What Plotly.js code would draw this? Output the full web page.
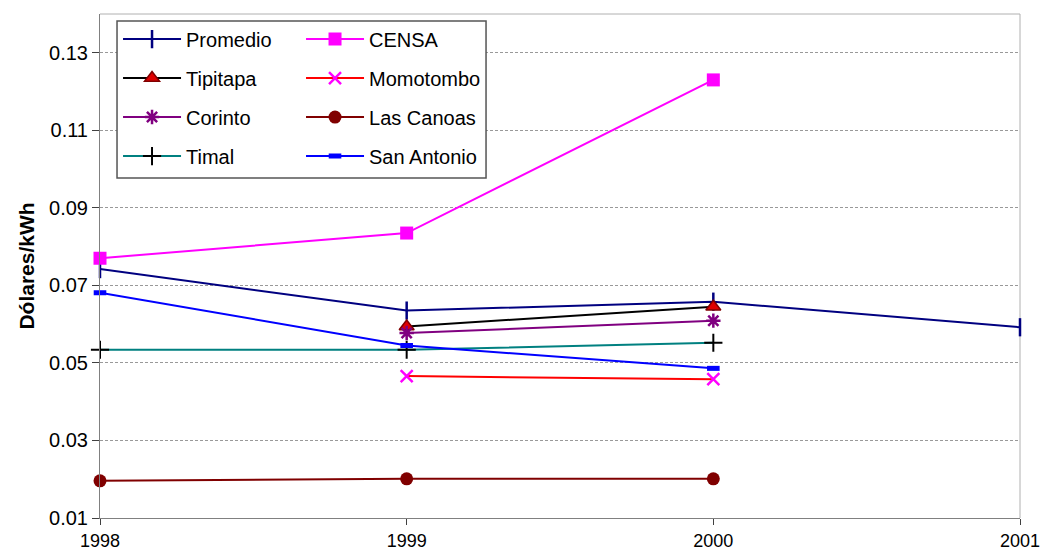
<!DOCTYPE html>
<html>
<head>
<meta charset="utf-8">
<script src="https://cdn.plot.ly/plotly-3.0.1.min.js"></script>
<style>html,body{margin:0;padding:0;background:#fff;}#chart{width:1041px;height:556px;}</style>
</head>
<body>
<div id="chart"></div>
<script>
// ---- data ----
const years = [1998, 1999, 2000, 2001];
const promedio   = [0.0742, 0.0635, 0.0658, 0.0592];
const censaYears = [1998, 1999, 2000];
const censa      = [0.0770, 0.0835, 0.1230];
const tipiYears  = [1999, 2000];
const tipitapa   = [0.0594, 0.0645];
const momoYears  = [1999, 2000];
const momotombo  = [0.0466, 0.0458];
const coriYears  = [1999, 2000];
const corinto    = [0.0577, 0.0609];
const canoYears  = [1998, 1999, 2000];
const lasCanoas  = [0.0196, 0.0201, 0.0201];
const timalYears = [1998, 1999, 2000];
const timal      = [0.0534, 0.0534, 0.0552];
const sanYears   = [1998, 1999, 2000];
const sanAntonio = [0.0681, 0.0545, 0.0486];
const yTicks = [0.01, 0.03, 0.05, 0.07, 0.09, 0.11, 0.13];
const yTickText = ['0.01', '0.03', '0.05', '0.07', '0.09', '0.11', '0.13'];
const xTicks = [1998, 1999, 2000, 2001];
const xTickText = ['1998', '1999', '2000', '2001'];

const FONT = 'Liberation Sans, Arial, sans-serif';

function tr(name, x, y, lineColor, marker, legend, group) {
  return {
    type: 'scatter', mode: 'lines+markers', name: name, x: x, y: y,
    line: {color: lineColor, width: 2},
    marker: marker, cliponaxis: false,
    legend: legend, legendgroup: group, showlegend: true
  };
}

const data = [
  tr('Promedio', years, promedio, '#000080',
     {symbol: 'line-ns', size: 13, line: {color: '#000080', width: 2.5}}, 'legend', 'g1'),
  tr('CENSA', censaYears, censa, '#FF00FF',
     {symbol: 'square', size: 13, color: '#FF00FF', line: {width: 0}}, 'legend2', 'g2'),
  tr('Tipitapa', tipiYears, tipitapa, '#000000',
     {symbol: 'triangle-up', size: 13, color: '#E00000', line: {color: '#800000', width: 1.5}}, 'legend', 'g3'),
  tr('Momotombo', momoYears, momotombo, '#FF0000',
     {symbol: 'x-thin', size: 12, line: {color: '#FF00FF', width: 2.5}}, 'legend2', 'g4'),
  tr('Corinto', coriYears, corinto, '#800080',
     {symbol: 'asterisk', size: 12, line: {color: '#800080', width: 2.5}}, 'legend', 'g5'),
  tr('Las Canoas', canoYears, lasCanoas, '#800000',
     {symbol: 'circle', size: 13, color: '#800000', line: {width: 0}}, 'legend2', 'g6'),
  tr('Timal', timalYears, timal, '#008080',
     {symbol: 'cross-thin', size: 13, line: {color: '#000000', width: 2}}, 'legend', 'g7'),
  tr('San Antonio', sanYears, sanAntonio, '#0000FF',
     {symbol: 'line-ew', size: 9, line: {color: '#0000FF', width: 5}}, 'legend2', 'g8')
];

const legendCommon = {
  bgcolor: 'rgba(0,0,0,0)', borderwidth: 0,
  font: {family: FONT, size: 20, color: '#000'},
  xanchor: 'left', yanchor: 'top', y: 0.989,
  tracegroupgap: 10, itemwidth: 58
};

const layout = {
  width: 1041, height: 556,
  margin: {l: 100, r: 21, t: 14, b: 38},
  paper_bgcolor: '#fff', plot_bgcolor: '#fff',
  font: {family: FONT, color: '#000'},
  xaxis: {
    range: [1998, 2001], tickvals: xTicks, ticktext: xTickText,
    showgrid: false, zeroline: false,
    showline: true, linecolor: '#808080', linewidth: 1,
    ticks: 'outside', ticklen: 6, tickcolor: '#404040',
    tickfont: {family: FONT, size: 18, color: '#000'}
  },
  yaxis: {
    range: [0.01, 0.14], tickvals: yTicks, ticktext: yTickText,
    showgrid: true, gridcolor: '#999', griddash: '3px,2px', gridwidth: 1,
    zeroline: false,
    showline: true, linecolor: '#808080', linewidth: 1,
    ticks: 'outside', ticklen: 7, tickcolor: '#404040',
    tickfont: {family: FONT, size: 20, color: '#000'},
    title: {text: '<b>Dólares/kWh</b>', font: {family: FONT, size: 21, color: '#000'}, standoff: 8}
  },
  legend: Object.assign({x: 0.0196}, legendCommon),
  legend2: Object.assign({x: 0.2185}, legendCommon),
  shapes: [
    {type: 'line', xref: 'paper', yref: 'paper', x0: 0, x1: 1, y0: 1, y1: 1,
     line: {color: '#b0b0b0', width: 1}, layer: 'below'},
    {type: 'line', xref: 'paper', yref: 'paper', x0: 1, x1: 1, y0: 0, y1: 1,
     line: {color: '#b0b0b0', width: 1}, layer: 'below'},
    {type: 'rect', xref: 'paper', yref: 'paper', x0: 0.0185, x1: 0.4196, y0: 0.6746, y1: 0.9861,
     line: {color: '#555', width: 1.5}, fillcolor: '#fff', layer: 'above'}
  ],
  showlegend: true
};

Plotly.newPlot('chart', data, layout, {displayModeBar: false, staticPlot: true});
</script>
</body>
</html>
